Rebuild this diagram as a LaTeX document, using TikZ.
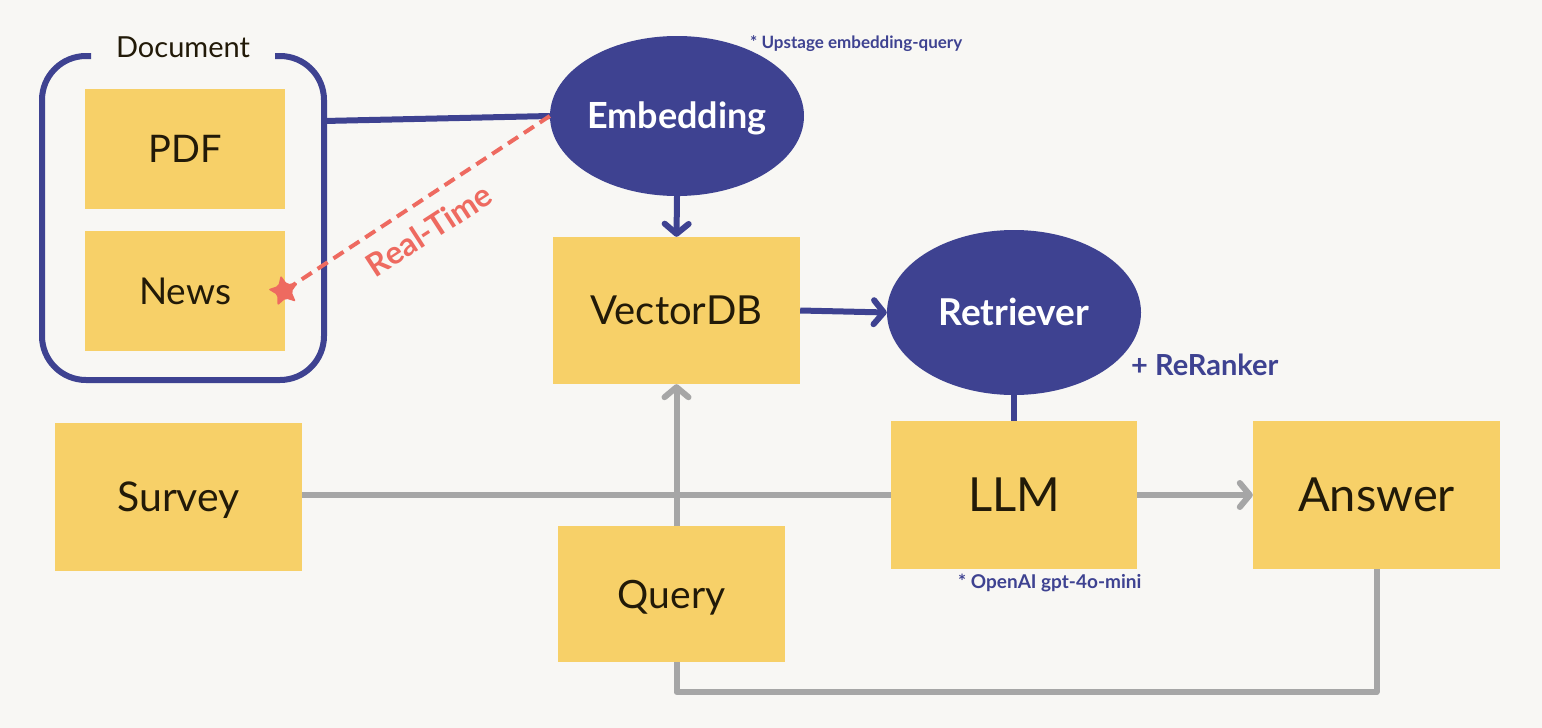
\documentclass[tikz,border=0pt]{standalone}
\usepackage{fontspec}
\setmainfont{Lato}
\usetikzlibrary{shapes.geometric,arrows.meta}
\definecolor{bgc}{HTML}{F8F7F4}
\definecolor{ylw}{HTML}{F7D068}
\definecolor{navy}{HTML}{3E4291}
\definecolor{gry}{HTML}{A6A6A6}
\definecolor{rd}{HTML}{EE6A60}
\definecolor{txt}{HTML}{221A08}
\newcommand{\fs}[1]{\fontsize{#1}{#1}\selectfont}
\begin{document}
\begin{tikzpicture}[x=1pt,y=-1pt,
  ybox/.style={rectangle, fill=ylw, inner sep=0pt, text=txt, font=\fs{#1}, text height={0.72*#1pt}, text depth=0pt},
  bell/.style={ellipse, fill=navy, text=white, inner sep=0pt, font=\bfseries\fs{#1}, text height={0.72*#1pt}, text depth=0pt},
  bline/.style={draw=navy, line width=6pt},
  gline/.style={draw=gry, line width=6pt},
  tipb/.style={-{Straight Barb[length=10pt,width=24pt,round]}},
  note/.style={text=navy, font=\bfseries\fs{#1}, inner sep=0pt}
]
\fill[bgc] (0,0) rectangle (1542,728);
\useasboundingbox (0,0) rectangle (1542,728);

% document frame
\draw[bline, rounded corners=44pt] (91,56) -- (42,56) -- (42,380) -- (324,380) -- (324,56) -- (275,56);
\node[text=txt, font=\fs{29}, inner sep=0pt] (doclbl) at (183,47) {Document};
\coordinate (docR) at (324,121);

% boxes
\node[ybox=38, minimum width=200pt, minimum height=120pt] (pdf) at (185,149) {PDF};
\node[ybox=37, minimum width=200pt, minimum height=120pt] (news) at (185,291) {News};
\node[ybox=41, minimum width=247pt, minimum height=148pt] (survey) at (178.5,497) {Survey};
\node[ybox=40, minimum width=247pt, minimum height=147pt] (vdb) at (676.5,310.5) {VectorDB};
\node[ybox=39, minimum width=227pt, minimum height=136pt] (query) at (671.5,594) {Query};
\node[ybox=47, minimum width=246pt, minimum height=148pt] (llm) at (1014,495) {LLM};
\node[ybox=47, minimum width=247pt, minimum height=148pt] (ans) at (1376.5,495) {Answer};

% ellipses
\node[bell=36, minimum width=254pt, minimum height=160pt] (emb) at (677,116) {Embedding};
\node[bell=37, minimum width=254pt, minimum height=165pt] (ret) at (1014,312.5) {Retriever};

% blue connectors
\draw[bline] (docR) -- (emb.west);
\draw[bline, tipb] (emb.south) -- (vdb.north);
\draw[bline, tipb] (vdb.east) -- (ret.west);
\draw[bline] (ret.south) -- (llm.north);

% grey connectors
\coordinate (loop) at (1376.5,692);
\draw[gline] (survey.east |- llm.west) -- (llm.west);
\draw[gline, tipb] (llm.east) -- (ans.west);
\draw[gline, tipb] (query.north -| vdb.south) -- (vdb.south);
\draw[gline, line join=round] (ans.south) -- (loop) -- (loop -| vdb.south) -- (query.south -| vdb.south);

% real-time
\node[star, star points=5, star point ratio=2.1, fill=rd, minimum size=32pt, inner sep=0pt, rounded corners=2pt, rotate=12] (rts) at (284,291) {};
\draw[draw=rd, line width=4pt, dash pattern=on 12pt off 7pt] (emb.west) -- (rts.center);
\node[rotate=33, text=rd, font=\bfseries\fs{32}, inner sep=0pt] (rtl) at (429,230) {Real-Time};

% notes
\node[note=17, anchor=west] (upn) at (750,44) {* Upstage embedding-query};
\node[note=29, anchor=west] (rr) at (1131,365) {+ ReRanker};
\node[note=19, anchor=west] (oa) at (958,583) {* OpenAI gpt-4o-mini};
\end{tikzpicture}
\end{document}
